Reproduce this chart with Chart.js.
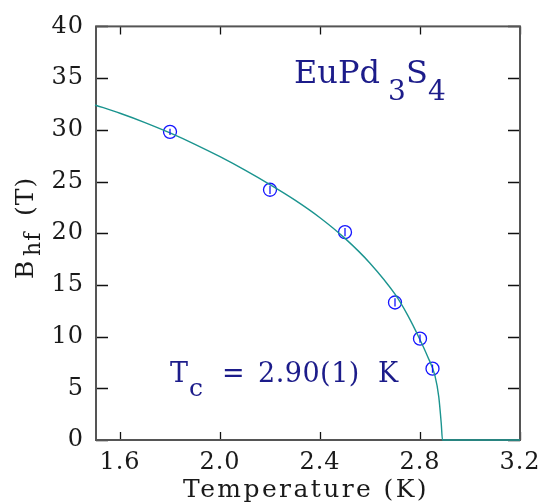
<!DOCTYPE html>
<html>
<head>
<meta charset="utf-8">
<script src="https://cdn.jsdelivr.net/npm/chart.js@4.4.1/dist/chart.umd.min.js"></script>
<style>
  html, body { margin: 0; padding: 0; background: #fff; }
  #wrap { width: 549px; height: 503px; }
</style>
</head>
<body>
<div id="wrap"><canvas id="hfChart" width="549" height="503"></canvas></div>
<script>
// measured points (T in K, Bhf in T) with error bars
const tempPoints = [1.8, 2.2, 2.5, 2.7, 2.8, 2.85];
const bhfPoints = [29.8, 24.2, 20.1, 13.3, 9.8, 6.9];
const bhfErrors = [0.3, 0.4, 0.4, 0.4, 0.4, 0.4];

// fitted curve
const tempCurve = [1.50, 1.60, 1.70, 1.80, 1.90, 2.00, 2.10, 2.20, 2.30, 2.40, 2.50, 2.60, 2.70, 2.75, 2.80, 2.83, 2.86, 2.875, 2.885, 2.89, 3.20];
const bhfCurve = [32.4, 31.6, 30.7, 29.7, 28.6, 27.4, 26.1, 24.7, 23.2, 21.5, 19.5, 17.1, 14.1, 12.1, 9.7, 8.1, 6.2, 4.2, 1.6, 0, 0];

const xTicks = [1.6, 2.0, 2.4, 2.8, 3.2];
const yTicks = [0, 5, 10, 15, 20, 25, 30, 35, 40];

const inkColor = "#1c1c8a";
const serif = "'DejaVu Serif', 'Liberation Serif', serif";

// frame + inward ticks on all four sides (under the data), then error bars and labels
const decorPlugin = {
  id: "decor",
  beforeDraw(chart) {
    chart.ctx.letterSpacing = "1px";
  },
  beforeDatasetsDraw(chart) {
    const ctx = chart.ctx;
    const a = chart.chartArea;
    const xs = chart.scales.x;
    const ys = chart.scales.y;
    ctx.save();
    ctx.strokeStyle = "#111";
    ctx.lineWidth = 1.3;
    xTicks.forEach((v) => {
      const px = Math.round(xs.getPixelForValue(v)) + 0.5;
      ctx.beginPath();
      ctx.moveTo(px, a.bottom); ctx.lineTo(px, a.bottom - 8);
      ctx.moveTo(px, a.top); ctx.lineTo(px, a.top + 8);
      ctx.stroke();
    });
    yTicks.forEach((v) => {
      const py = Math.round(ys.getPixelForValue(v)) + 0.5;
      ctx.beginPath();
      ctx.moveTo(a.left, py); ctx.lineTo(a.left + 12, py);
      ctx.moveTo(a.right, py); ctx.lineTo(a.right - 12, py);
      ctx.stroke();
    });
    ctx.strokeStyle = "#555";
    ctx.lineWidth = 2;
    ctx.strokeRect(a.left, a.top, a.right - a.left, a.bottom - a.top);
    ctx.restore();
  },
  afterDatasetsDraw(chart) {
    const ctx = chart.ctx;
    const a = chart.chartArea;
    const xs = chart.scales.x;
    const ys = chart.scales.y;
    ctx.save();

    // error bars inside the circles
    ctx.strokeStyle = "#1515ff";
    ctx.lineWidth = 1.3;
    tempPoints.forEach((t, i) => {
      const px = xs.getPixelForValue(t);
      ctx.beginPath();
      ctx.moveTo(px, ys.getPixelForValue(bhfPoints[i] - bhfErrors[i]));
      ctx.lineTo(px, ys.getPixelForValue(bhfPoints[i] + bhfErrors[i]));
      ctx.stroke();
    });

    // compound name
    ctx.fillStyle = inkColor;
    ctx.textBaseline = "alphabetic";
    ctx.textAlign = "left";
    ctx.letterSpacing = "0px";
    ctx.font = "32px " + serif;
    ctx.fillText("EuPd", 294, 83);
    ctx.fillText("S", 406, 83);
    ctx.font = "28px " + serif;
    ctx.fillText("3", 388, 100);
    ctx.fillText("4", 428, 100);

    // Tc label
    ctx.font = "27px " + serif;
    ctx.fillText("T", 170, 382);
    ctx.fillText("=", 222, 382);
    ctx.letterSpacing = "0.5px";
    ctx.fillText("2.90(1)", 258, 382);
    ctx.letterSpacing = "0px";
    ctx.fillText("K", 378, 382);
    ctx.font = "25px " + serif;
    ctx.fillText("c", 189, 396);

    // axis titles
    ctx.fillStyle = "#1a1a1a";
    ctx.font = "25px " + serif;
    ctx.textAlign = "center";
    ctx.letterSpacing = "2.4px";
    ctx.fillText("Temperature (K)", (a.left + a.right) / 2 - 2, 497);

    ctx.translate(33, 279);
    ctx.rotate(-Math.PI / 2);
    ctx.textAlign = "left";
    ctx.letterSpacing = "1px";
    ctx.fillText("B", 0, 0);
    ctx.font = "22px " + serif;
    ctx.fillText("hf", 23, 7);
    ctx.font = "25px " + serif;
    ctx.fillText("(T)", 63, 0);
    ctx.restore();
  },
};

const chartInstance = new Chart(document.getElementById("hfChart"), {
  type: "scatter",
  data: {
    datasets: [
      {
        label: "fit",
        data: tempCurve.map((t, i) => ({ x: t, y: bhfCurve[i] })),
        showLine: true,
        borderColor: "#1b948f",
        borderWidth: 1.4,
        pointRadius: 0,
        cubicInterpolationMode: "monotone",
        fill: false,
        clip: 2,
      },
      {
        label: "Bhf",
        data: tempPoints.map((t, i) => ({ x: t, y: bhfPoints[i] })),
        showLine: false,
        pointStyle: "circle",
        pointRadius: 6.5,
        borderColor: "#1515ff",
        backgroundColor: "rgba(0,0,0,0)",
        borderWidth: 1.3,
      },
    ],
  },
  options: {
    responsive: false,
    animation: false,
    layout: { padding: { left: 0, right: 29, top: 16, bottom: 0 } },
    plugins: {
      legend: { display: false },
      tooltip: { enabled: false },
    },
    scales: {
      x: {
        type: "linear",
        min: 1.504,
        max: 3.2,
        grid: { display: false, drawTicks: false },
        border: { display: false },
        afterBuildTicks: (scale) => {
          scale.ticks = xTicks.map((v) => ({ value: v }));
        },
        afterFit: (scale) => {
          scale.height = 63;
        },
        ticks: {
          padding: 8,
          color: "#1a1a1a",
          maxRotation: 0,
          font: { family: serif, size: 24 },
          callback: (v) => Number(v).toFixed(1),
        },
      },
      y: {
        type: "linear",
        min: 0,
        max: 40,
        grid: { display: false, drawTicks: false },
        border: { display: false },
        afterBuildTicks: (scale) => {
          scale.ticks = yTicks.map((v) => ({ value: v }));
        },
        afterFit: (scale) => {
          scale.width = 96;
        },
        ticks: {
          padding: 12,
          color: "#1a1a1a",
          font: { family: serif, size: 24 },
        },
      },
    },
  },
  plugins: [decorPlugin],
});
</script>
</body>
</html>
